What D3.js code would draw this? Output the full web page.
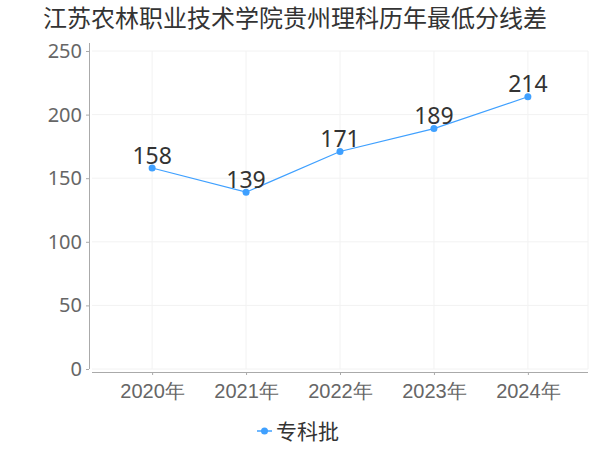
<!DOCTYPE html>
<html>
<head>
<meta charset="utf-8">
<script src="https://cdn.jsdelivr.net/npm/d3@7"></script>
<style>
  body { margin: 0; background: #fff; }
  svg { font-family: "Noto Sans CJK SC", "Noto Sans", sans-serif; }
</style>
</head>
<body>
<svg id="chart" width="600" height="450"></svg>
<script>
const years = ['2020年', '2021年', '2022年', '2023年', '2024年'];
const scores = [158, 139, 171, 189, 214];
const yTicks = [0, 50, 100, 150, 200, 250];
const seriesName = '专科批';
const titleText = '江苏农林职业技术学院贵州理科历年最低分线差';

const svg = d3.select('#chart');
const lineColor = '#3fa0ff';

const x = d3.scalePoint().domain(years).range([92, 588]).padding(0.64);
const y = d3.scaleLinear().domain([0, 250]).range([369, 51]);

svg.append('text')
  .attr('x', 295).attr('y', 27)
  .attr('text-anchor', 'middle')
  .attr('fill', '#333').attr('font-size', 24)
  .text(titleText);

// grid
const grid = svg.append('g');
grid.selectAll('.hg').data(yTicks).enter().append('line')
  .attr('x1', 92).attr('x2', 588)
  .attr('y1', d => y(d)).attr('y2', d => y(d))
  .attr('stroke', '#f2f2f2');
grid.selectAll('.vg').data(years).enter().append('line')
  .attr('x1', d => x(d)).attr('x2', d => x(d))
  .attr('y1', 51).attr('y2', 369)
  .attr('stroke', '#f2f2f2');
grid.append('line').attr('x1', 588).attr('x2', 588).attr('y1', 51).attr('y2', 369).attr('stroke', '#f2f2f2');

// y axis
const yAxis = svg.append('g').attr('transform', 'translate(89,0)')
  .call(d3.axisLeft(y).tickValues(yTicks).tickSize(3).tickPadding(4));
yAxis.select('.domain').attr('stroke', '#aaa').attr('d', 'M0.5,43V369');
yAxis.selectAll('.tick line').attr('stroke', '#aaa');
yAxis.selectAll('text').attr('fill', '#666').attr('font-size', 20)
  .attr('font-family', '"Noto Sans", "Open Sans", sans-serif');

// x axis
const xAxis = svg.append('g').attr('transform', 'translate(0,372)')
  .call(d3.axisBottom(x).tickSize(3).tickPadding(9));
xAxis.select('.domain').attr('stroke', '#aaa').attr('d', 'M92,0.5H588');
xAxis.selectAll('.tick line').attr('stroke', '#aaa');
xAxis.selectAll('text').attr('fill', '#666').attr('font-size', 20);

// line
const data = years.map((d, i) => ({ year: d, v: scores[i] }));
svg.append('path').datum(data)
  .attr('fill', 'none').attr('stroke', lineColor).attr('stroke-width', 1.2)
  .attr('d', d3.line().x(d => x(d.year)).y(d => y(d.v)));

svg.selectAll('.pt').data(data).enter().append('circle')
  .attr('cx', d => x(d.year)).attr('cy', d => y(d.v)).attr('r', 3.5)
  .attr('fill', lineColor);

svg.selectAll('.lbl').data(data).enter().append('text')
  .attr('x', d => x(d.year)).attr('y', d => y(d.v) - 4.5)
  .attr('text-anchor', 'middle')
  .attr('fill', '#333').attr('font-size', 23)
  .attr('font-family', '"Noto Sans", "Open Sans", sans-serif')
  .text(d => d.v);

// legend
const lg = svg.append('g').attr('transform', 'translate(257,431)');
lg.append('line').attr('x1', 0).attr('x2', 15).attr('stroke', lineColor).attr('stroke-width', 1.5);
lg.append('circle').attr('cx', 7.5).attr('r', 3.5).attr('fill', lineColor);
lg.append('text').attr('x', 19).attr('y', 8)
  .attr('fill', '#333').attr('font-size', 21)
  .text(seriesName);
</script>
</body>
</html>
